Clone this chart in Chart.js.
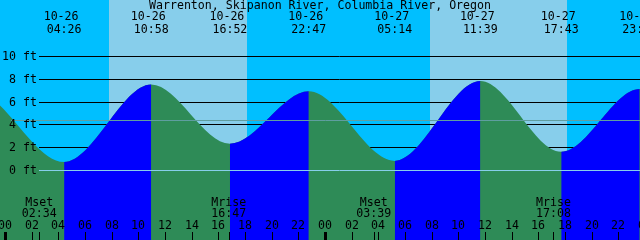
<!DOCTYPE html>
<html>
<head>
<meta charset="utf-8">
<script src="https://cdn.jsdelivr.net/npm/chart.js@4.4.1/dist/chart.umd.min.js"></script>
<style>
  html, body { margin: 0; padding: 0; background: #00bfff; }
  #wrap { width: 640px; height: 240px; }
</style>
</head>
<body>
<div id="wrap"><canvas id="tide" width="640" height="240"></canvas></div>
<script>
const title = 'Warrenton, Skipanon River, Columbia River, Oregon';

// tide extremes (first and last are just off the plot, keep the curve flat at the edges)
const tideTimes = ['10-25 15:10', '10-25 21:36', '10-26 04:26', '10-26 10:58', '10-26 16:52', '10-26 22:47',
                   '10-27 05:14', '10-27 11:39', '10-27 17:43', '10-27 23:36', '10-28 06:05'];
const tideHeights = [2.0, 7.0, 0.7, 7.5, 2.3, 6.9, 0.8, 7.8, 1.6, 7.1, 0.9];

const sunrise = ['10-26 07:48', '10-27 07:52'];
const sunset = ['10-26 18:09', '10-27 18:09'];

const moonLabels = ['Mset', 'Mrise', 'Mset', 'Mrise'];
const moonTimes = ['10-26 02:34', '10-26 16:47', '10-27 03:39', '10-27 17:08'];

const yTicks = [0, 2, 4, 6, 8, 10];
const meanLevel = 4.36;
const hourTicks = ['00', '02', '04', '06', '08', '10', '12', '14', '16', '18', '20', '22'];

const NIGHT = '#00bfff', DAY = '#87ceeb', FLOOD = '#0000ff', EBB = '#2e8b57';
const DATUM = '#87ceeb', MSL = '#5f9ea0';
const FONT = '11.6px "DejaVu Sans Mono", monospace';

// 'MM-DD HH:MM' -> hours since 10-26 00:00
function toHours(s) {
  return (parseInt(s.slice(3, 5), 10) - 26) * 24 + parseInt(s.slice(6, 8), 10) + parseInt(s.slice(9, 11), 10) / 60;
}

const xMin = -0.375, xMax = 47.625;

function hline(ctx, x0, x1, py) {
  const yy = Math.round(py) + 0.5;
  ctx.beginPath();
  ctx.moveTo(x0, yy);
  ctx.lineTo(x1, yy);
  ctx.stroke();
}

const tidePlot = {
  id: 'tidePlot',
  beforeDatasetsDraw(chart) {
    const {ctx, width, height, scales: {x, y}} = chart;
    ctx.save();
    ctx.fillStyle = NIGHT;
    ctx.fillRect(0, 0, width, height);
    ctx.fillStyle = DAY;
    sunrise.forEach((r, i) => {
      const x0 = Math.round(x.getPixelForValue(toHours(r)));
      const x1 = Math.round(x.getPixelForValue(toHours(sunset[i])));
      ctx.fillRect(x0, 0, x1 - x0, height);
    });
    ctx.strokeStyle = '#000';
    ctx.lineWidth = 1;
    yTicks.filter(v => v > 0).forEach(v => hline(ctx, 39, width, y.getPixelForValue(v)));
    ctx.restore();
  },
  afterDatasetsDraw(chart) {
    const {ctx, width, height, scales: {x, y}} = chart;
    ctx.save();
    ctx.lineWidth = 1;
    ctx.strokeStyle = DATUM;
    hline(ctx, 39, width, y.getPixelForValue(0));
    ctx.strokeStyle = MSL;
    hline(ctx, 11, width, y.getPixelForValue(meanLevel));

    ctx.font = FONT;
    ctx.fillStyle = '#000';
    ctx.textBaseline = 'middle';

    // y labels
    ctx.textAlign = 'right';
    yTicks.forEach(v => ctx.fillText(v + ' ft', 37, Math.round(y.getPixelForValue(v)) + 1));

    // title + extremes
    ctx.textAlign = 'center';
    ctx.fillText(title, 320, 6);
    tideTimes.forEach(t => {
      const px = x.getPixelForValue(toHours(t));
      ctx.fillText(t.slice(0, 5), px - 3, 17);
      ctx.fillText(t.slice(6), px, 30);
    });

    // moon events
    moonTimes.forEach((t, i) => {
      const px = x.getPixelForValue(toHours(t));
      ctx.fillText(moonLabels[i], px, 203);
      ctx.fillText(t.slice(6), px, 214);
      ctx.fillRect(Math.round(px), 232, 1, 8);
    });

    // hour ticks
    for (let d = 0; d <= 2; d++) {
      hourTicks.forEach((lab, j) => {
        const h = d * 24 + j * 2;
        const px = Math.round(x.getPixelForValue(h));
        if (px > width + 20) return;
        ctx.fillText(lab, px, 226);
        if (j === 0) ctx.fillRect(px - 1, 232, 3, 8);
        else ctx.fillRect(px, 232, 1, 8);
      });
    }
    ctx.restore();
  }
};

const tidePoints = tideTimes.map((t, i) => ({x: toHours(t), y: tideHeights[i]}));
const fillStyle = {
  fill: 'start',
  borderColor: 'rgba(0,0,0,0)',
  borderWidth: 0,
  pointRadius: 0,
  cubicInterpolationMode: 'monotone'
};

new Chart(document.getElementById('tide'), {
  type: 'line',
  data: {
    datasets: [
      // rising tide drawn on top of the ebb fill
      { ...fillStyle, data: tidePoints, backgroundColor: FLOOD,
        segment: { backgroundColor: c => c.p1.parsed.y > c.p0.parsed.y ? FLOOD : 'rgba(0,0,0,0)' } },
      { ...fillStyle, data: tidePoints, backgroundColor: EBB }
    ]
  },
  options: {
    responsive: false,
    animation: false,
    devicePixelRatio: 1,
    layout: { padding: 0 },
    elements: { line: { capBezierPoints: false } },
    plugins: { legend: { display: false }, tooltip: { enabled: false } },
    scales: {
      x: {
        type: 'linear', display: false, bounds: 'data',
        afterDataLimits: s => { s.min = xMin; s.max = xMax; }
      },
      y: { display: false, min: -6.14, max: 14.912 }
    }
  },
  plugins: [tidePlot]
});
</script>
</body>
</html>
